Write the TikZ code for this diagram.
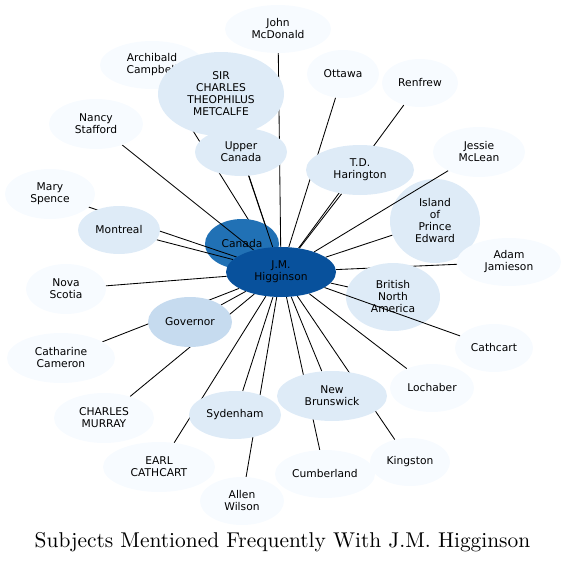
\documentclass[tikz,border=0pt]{standalone}
\usepackage{fontspec}
\setsansfont{DejaVu Sans}
\newfontfamily\titlefont{lmroman10-regular.otf}
\usetikzlibrary{shapes.geometric}
\definecolor{cH}{HTML}{08519C}
\definecolor{cCan}{HTML}{2171B5}
\definecolor{cGov}{HTML}{C6DBEF}
\definecolor{cMid}{HTML}{DEEBF7}
\definecolor{cLight}{HTML}{F7FBFF}
\pgfdeclarelayer{edgebottom}
\pgfdeclarelayer{canadalayer}
\pgfdeclarelayer{edgemid}
\pgfdeclarelayer{edgetop}
\pgfsetlayers{edgebottom,canadalayer,edgemid,main,edgetop}
\begin{document}
\begin{tikzpicture}[x=1pt,y=-1pt,
  bub/.style={ellipse, inner sep=0pt, align=center, text=black,
    font=\sffamily\fontsize{10.7}{12}\selectfont},
  light/.style={bub, fill=cLight},
  mid/.style={bub, fill=cMid},
  govs/.style={bub, fill=cGov},
  lnk/.style={draw=black, line width=0.85pt}]
\useasboundingbox (0,0) rectangle (565,562);
% nodes
\node[light, minimum width=106pt, minimum height=48pt] (jmc) at (278,29) {John\\McDonald};
\node[light, minimum width=104pt, minimum height=48pt] (arch) at (152,65) {Archibald\\Campbell};
\node[mid, minimum width=126pt, minimum height=84pt] (sir) at (221,94) {SIR\\CHARLES\\THEOPHILUS\\METCALFE};
\node[mid, minimum width=92pt, minimum height=48pt] (upc) at (241,152) {Upper\\Canada};
\node[light, minimum width=72pt, minimum height=48pt] (ott) at (343,74) {Ottawa};
\node[light, minimum width=76pt, minimum height=48pt] (ren) at (420,83) {Renfrew};
\node[mid, minimum width=108pt, minimum height=50pt] (td) at (360,170) {T.D.\\Harington};
\node[light, minimum width=92pt, minimum height=50pt] (jes) at (479,152) {Jessie\\McLean};
\node[mid, minimum width=90pt, minimum height=84pt] (isl) at (435,221) {Island\\of\\Prince\\Edward};
\node[light, minimum width=104pt, minimum height=48pt] (adam) at (509,262) {Adam\\Jamieson};
\node[mid, minimum width=94pt, minimum height=68pt] (bna) at (393,297) {British\\North\\America};
\node[light, minimum width=78pt, minimum height=48pt] (cath) at (494,348) {Cathcart};
\node[light, minimum width=84pt, minimum height=48pt] (loch) at (432,388) {Lochaber};
\node[mid, minimum width=110pt, minimum height=50pt] (nb) at (332,396) {New\\Brunswick};
\node[light, minimum width=100pt, minimum height=48pt] (cumb) at (325,474) {Cumberland};
\node[light, minimum width=80pt, minimum height=48pt] (king) at (410,462) {Kingston};
\node[light, minimum width=84pt, minimum height=48pt] (allen) at (242,501) {Allen\\Wilson};
\node[light, minimum width=112pt, minimum height=50pt] (earl) at (159,467) {EARL\\CATHCART};
\node[mid, minimum width=92pt, minimum height=48pt] (syd) at (235,415) {Sydenham};
\node[light, minimum width=100pt, minimum height=50pt] (cmur) at (104,418) {CHARLES\\MURRAY};
\node[light, minimum width=108pt, minimum height=50pt] (ccam) at (61,358) {Catharine\\Cameron};
\node[govs, minimum width=84pt, minimum height=50pt] (gov) at (190,322) {Governor};
\node[light, minimum width=80pt, minimum height=50pt] (nova) at (66,289) {Nova\\Scotia};
\node[light, minimum width=90pt, minimum height=50pt] (mary) at (50,194) {Mary\\Spence};
\node[mid, minimum width=82pt, minimum height=48pt] (mont) at (119,230) {Montreal};
\node[light, minimum width=94pt, minimum height=50pt] (nancy) at (96,124) {Nancy\\Stafford};
\begin{pgfonlayer}{canadalayer}
\node[bub, fill=cCan, minimum width=74pt, minimum height=50pt] (can) at (242,244) {Canada};
\end{pgfonlayer}
\node[bub, fill=cH, minimum width=110pt, minimum height=50pt] (hig) at (281,272) {J.M.\\Higginson};
% edges
\begin{pgfonlayer}{edgebottom}
\draw[lnk] (arch) -- (hig);
\draw[lnk] (jmc) -- (hig);
\draw[lnk] (sir) -- (hig);
\draw[lnk] (ott) -- (hig);
\draw[lnk] (ren) -- (hig);
\draw[lnk] (td) -- (hig);
\draw[lnk] (isl) -- (hig);
\draw[lnk] (adam) -- (hig);
\draw[lnk] (bna) -- (hig);
\draw[lnk] (loch) -- (hig);
\draw[lnk] (nb) -- (hig);
\draw[lnk] (king) -- (hig);
\draw[lnk] (cumb) -- (hig);
\draw[lnk] (allen) -- (hig);
\draw[lnk] (syd) -- (hig);
\draw[lnk] (earl) -- (hig);
\draw[lnk] (cmur) -- (hig);
\draw[lnk] (ccam) -- (hig);
\draw[lnk] (gov) -- (hig);
\draw[lnk] (nova) -- (hig);
\end{pgfonlayer}
\begin{pgfonlayer}{edgemid}
\draw[lnk] (upc) -- (hig);
\draw[lnk] (nancy) -- (hig);
\draw[lnk] (mary) -- (hig);
\draw[lnk] (mont) -- (hig);
\end{pgfonlayer}
\begin{pgfonlayer}{edgetop}
\draw[lnk] (jes) -- (hig);
\draw[lnk] (cath) -- (hig);
\end{pgfonlayer}
\node[font=\titlefont\fontsize{21.4}{26}\selectfont, anchor=base, inner sep=0pt] (title) at (282.5,547) {Subjects Mentioned Frequently With J.M. Higginson};
\end{tikzpicture}
\end{document}
